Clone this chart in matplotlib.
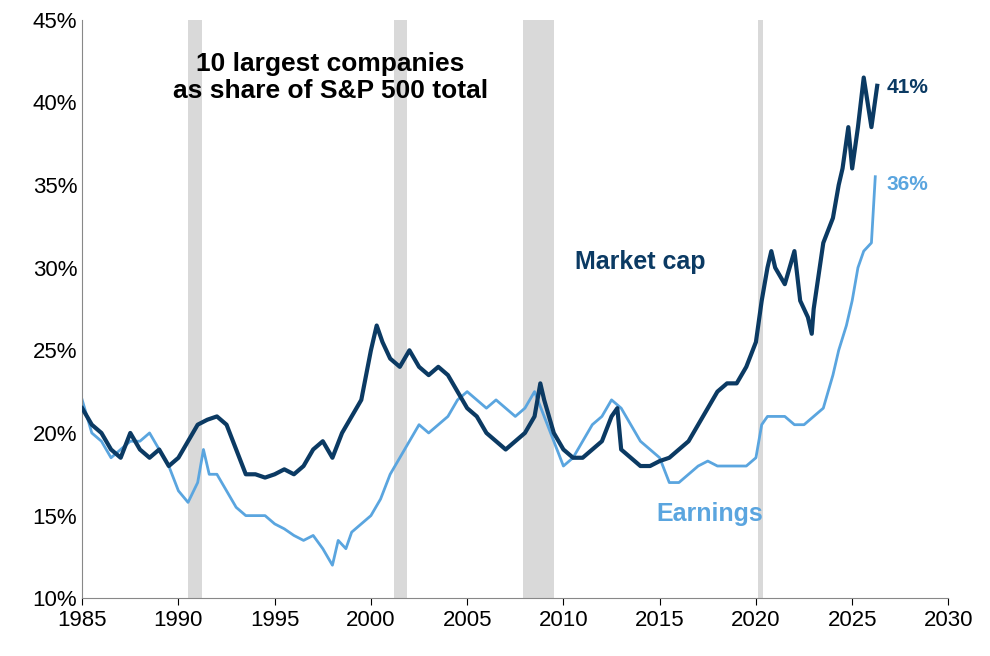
import matplotlib.pyplot as plt
from matplotlib.ticker import FuncFormatter

plt.rcParams['font.family'] = ['Liberation Sans', 'DejaVu Sans']

# market cap share (dark line)
mcap_x = [1985, 1985.5, 1986, 1986.5, 1987, 1987.5, 1988, 1988.5, 1989, 1989.5, 1990, 1990.5,
          1991, 1991.5, 1992, 1992.5, 1993, 1993.5, 1994, 1994.5, 1995, 1995.5, 1996, 1996.5,
          1997, 1997.5, 1998, 1998.5, 1999, 1999.5, 2000, 2000.3, 2000.6, 2001, 2001.5, 2002,
          2002.5, 2003, 2003.5, 2004, 2004.5, 2005, 2005.5, 2006, 2006.5, 2007, 2007.5, 2008,
          2008.5, 2008.8, 2009, 2009.5, 2010, 2010.5, 2011, 2011.5, 2012, 2012.5, 2012.8, 2013,
          2013.5, 2014, 2014.5, 2015, 2015.5, 2016, 2016.5, 2017, 2017.5, 2018, 2018.5, 2019,
          2019.5, 2020, 2020.3, 2020.6, 2020.8, 2021, 2021.5, 2022, 2022.3, 2022.7, 2022.9, 2023,
          2023.5, 2024, 2024.3, 2024.5, 2024.8, 2025, 2025.3, 2025.6, 2025.8, 2026, 2026.3]
mcap_y = [21.5, 20.5, 20, 19, 18.5, 20, 19, 18.5, 19, 18, 18.5, 19.5,
          20.5, 20.8, 21, 20.5, 19, 17.5, 17.5, 17.3, 17.5, 17.8, 17.5, 18,
          19, 19.5, 18.5, 20, 21, 22, 25, 26.5, 25.5, 24.5, 24, 25,
          24, 23.5, 24, 23.5, 22.5, 21.5, 21, 20, 19.5, 19, 19.5, 20,
          21, 23, 22, 20, 19, 18.5, 18.5, 19, 19.5, 21, 21.5, 19,
          18.5, 18, 18, 18.3, 18.5, 19, 19.5, 20.5, 21.5, 22.5, 23, 23,
          24, 25.5, 28, 30, 31, 30, 29, 31, 28, 27, 26, 27.5,
          31.5, 33, 35, 36, 38.5, 36, 38.5, 41.5, 40, 38.5, 41]

# earnings share (light line)
earn_x = [1985, 1985.5, 1986, 1986.5, 1987, 1987.5, 1988, 1988.5, 1989, 1989.5, 1990, 1990.5,
          1991, 1991.3, 1991.6, 1992, 1992.5, 1993, 1993.5, 1994, 1994.5, 1995, 1995.5, 1996,
          1996.5, 1997, 1997.5, 1998, 1998.3, 1998.7, 1999, 1999.5, 2000, 2000.5, 2001, 2001.5,
          2002, 2002.5, 2003, 2003.5, 2004, 2004.5, 2005, 2005.5, 2006, 2006.5, 2007, 2007.5,
          2008, 2008.5, 2009, 2009.5, 2010, 2010.5, 2011, 2011.5, 2012, 2012.5, 2013, 2013.5,
          2014, 2014.5, 2015, 2015.5, 2016, 2016.5, 2017, 2017.5, 2018, 2018.5, 2019, 2019.5,
          2020, 2020.3, 2020.6, 2021, 2021.5, 2022, 2022.5, 2023, 2023.5, 2024, 2024.3, 2024.7,
          2025, 2025.3, 2025.6, 2026, 2026.2]
earn_y = [22, 20, 19.5, 18.5, 19, 19.5, 19.5, 20, 19, 18, 16.5, 15.8,
          17, 19, 17.5, 17.5, 16.5, 15.5, 15, 15, 15, 14.5, 14.2, 13.8,
          13.5, 13.8, 13, 12, 13.5, 13, 14, 14.5, 15, 16, 17.5, 18.5,
          19.5, 20.5, 20, 20.5, 21, 22, 22.5, 22, 21.5, 22, 21.5, 21,
          21.5, 22.5, 21, 19.5, 18, 18.5, 19.5, 20.5, 21, 22, 21.5, 20.5,
          19.5, 19, 18.5, 17, 17, 17.5, 18, 18.3, 18, 18, 18, 18,
          18.5, 20.5, 21, 21, 21, 20.5, 20.5, 21, 21.5, 23.5, 25, 26.5,
          28, 30, 31, 31.5, 35.5]

recessions = [(1990.5, 1991.2), (2001.2, 2001.9), (2007.9, 2009.5), (2020.1, 2020.35)]

dark = '#0b3a63'
light = '#5aa5df'

fig = plt.figure(figsize=(9.9, 6.56), dpi=100)
ax = fig.add_axes([0.083, 0.088, 0.875, 0.882])

for a, b in recessions:
    ax.axvspan(a, b, color='#d9d9d9', lw=0, zorder=0)

ax.plot(earn_x, earn_y, color=light, lw=2, zorder=2)
ax.plot(mcap_x, mcap_y, color=dark, lw=3, zorder=3)

ax.set_xlim(1985, 2030)
ax.set_ylim(10, 45)
ax.set_xticks(range(1985, 2031, 5))
ax.set_yticks(range(10, 46, 5))
ax.yaxis.set_major_formatter(FuncFormatter(lambda v, p: f'{v:.0f}%'))
ax.tick_params(labelsize=16, direction='out', length=5)
ax.tick_params(axis='y', length=0)
for s in ['top', 'right']:
    ax.spines[s].set_visible(False)
ax.spines['left'].set_color('#888888')
ax.spines['bottom'].set_color('#888888')

ax.text(1997.9, 41.5, '10 largest companies\nas share of S&P 500 total', ha='center', va='center',
        fontsize=19, fontweight='bold', linespacing=1.2)
ax.text(2014.0, 30.35, 'Market cap', color=dark, fontsize=18, fontweight='bold',
        ha='center', va='center')
ax.text(2017.6, 15.1, 'Earnings', color=light, fontsize=18, fontweight='bold',
        ha='center', va='center')
ax.text(2026.8, 40.9, '41%', color=dark, fontsize=15, fontweight='bold', va='center')
ax.text(2026.8, 35.0, '36%', color=light, fontsize=15, fontweight='bold', va='center')

fig.savefig('out.png', dpi=100)
